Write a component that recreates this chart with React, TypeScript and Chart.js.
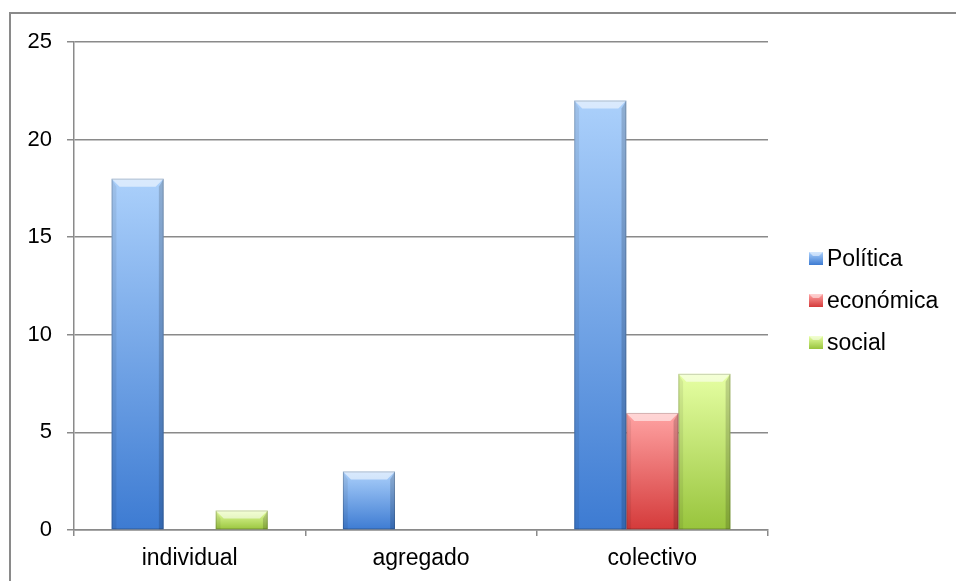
import React, { useEffect, useRef } from "react";
import { Chart, registerables } from "chart.js";

Chart.register(...registerables);

const categories = ["individual", "agregado", "colectivo"];
const seriesNames = ["Política", "económica", "social"];
const politica = [18, 3, 22];
const economica = [0, 0, 6];
const social = [1, 0, 8];
const yTicks = [0, 5, 10, 15, 20, 25];

// top / bottom colours of each series' vertical gradient
const palette = [
  { top: "#abd0fb", bottom: "#3d7bd2", flat: "#4f81bd" },
  { top: "#ffa3a3", bottom: "#d43a3a", flat: "#c0504d" },
  { top: "#e6ffa3", bottom: "#98c43c", flat: "#9bbb59" },
];

const FONT = "'Liberation Sans', Arial, sans-serif";
const GRID = "#8a8a8a";

function barFill(ctx: any) {
  const chart = ctx.chart;
  const p = palette[ctx.datasetIndex];
  if (!chart.chartArea || ctx.type !== "data") return p.flat;
  const y = chart.scales.y;
  const v = ctx.raw as number;
  const top = y.getPixelForValue(v);
  const base = y.getPixelForValue(0);
  if (Math.abs(base - top) < 1) return p.flat;
  const g = chart.ctx.createLinearGradient(0, top, 0, base);
  g.addColorStop(0, p.top);
  g.addColorStop(1, p.bottom);
  return g;
}

// bevelled top edge and shaded sides on each bar
const bevelPlugin = {
  id: "bevel",
  afterDatasetsDraw(chart: any) {
    const c = chart.ctx;
    chart.data.datasets.forEach((_: any, di: number) => {
      const meta = chart.getDatasetMeta(di);
      meta.data.forEach((bar: any) => {
        const { x, y, base, width } = bar.getProps(["x", "y", "base", "width"], true);
        const h = base - y;
        if (h < 2) return;
        const x0 = x - width / 2;
        const x1 = x + width / 2;
        const b = Math.min(8, h / 2);
        c.save();
        // top highlight
        c.beginPath();
        c.moveTo(x0, y);
        c.lineTo(x1, y);
        c.lineTo(x1 - b, y + b);
        c.lineTo(x0 + b, y + b);
        c.closePath();
        c.fillStyle = "rgba(255,255,255,0.55)";
        c.fill();
        // left side
        c.beginPath();
        c.moveTo(x0, y);
        c.lineTo(x0 + b * 0.6, y + b);
        c.lineTo(x0 + b * 0.6, base);
        c.lineTo(x0, base);
        c.closePath();
        c.fillStyle = "rgba(0,0,0,0.07)";
        c.fill();
        // right side
        c.beginPath();
        c.moveTo(x1, y);
        c.lineTo(x1 - b * 0.6, y + b);
        c.lineTo(x1 - b * 0.6, base);
        c.lineTo(x1, base);
        c.closePath();
        c.fillStyle = "rgba(0,0,0,0.16)";
        c.fill();
        // outline
        c.strokeStyle = "rgba(0,0,0,0.18)";
        c.lineWidth = 1;
        c.strokeRect(x0 + 0.5, y + 0.5, width - 1, h - 1);
        c.restore();
      });
    });
  },
};

// vertical legend to the right of the plot
const legendPlugin = {
  id: "sideLegend",
  afterDraw(chart: any) {
    const c = chart.ctx;
    const area = chart.chartArea;
    const boxX = area.right + 41;
    const firstBaseline = 266;
    const step = 42;
    c.save();
    c.font = `23px ${FONT}`;
    c.textBaseline = "alphabetic";
    c.textAlign = "left";
    seriesNames.forEach((name, i) => {
      const baseY = firstBaseline + i * step;
      const p = palette[i];
      const bx = boxX;
      const by = baseY - 14;
      const g = c.createLinearGradient(0, by, 0, by + 13);
      g.addColorStop(0, p.top);
      g.addColorStop(1, p.bottom);
      c.fillStyle = g;
      c.fillRect(bx, by, 14, 13);
      c.fillStyle = "rgba(255,255,255,0.5)";
      c.beginPath();
      c.moveTo(bx, by);
      c.lineTo(bx + 14, by);
      c.lineTo(bx + 10, by + 4);
      c.lineTo(bx + 4, by + 4);
      c.closePath();
      c.fill();
      c.fillStyle = "#000";
      c.fillText(name, bx + 18, baseY);
    });
    c.restore();
  },
};

export default function App() {
  const ref = useRef<HTMLCanvasElement>(null);

  useEffect(() => {
    if (!ref.current) return;
    const values = [politica, economica, social];
    const chart = new Chart(ref.current, {
      type: "bar",
      data: {
        labels: categories,
        datasets: seriesNames.map((name, i) => ({
          label: name,
          data: values[i],
          backgroundColor: barFill,
          borderWidth: 0,
          barPercentage: 1,
          categoryPercentage: 0.675,
        })),
      },
      options: {
        animation: false,
        responsive: false,
        layout: { padding: { left: 0, right: 188, top: 42, bottom: 0 } },
        plugins: {
          legend: { display: false },
          tooltip: { enabled: false },
        },
        scales: {
          x: {
            afterFit: (s: any) => {
              s.height = 51;
            },
            grid: {
              offset: true,
              drawOnChartArea: false,
              drawTicks: true,
              tickLength: 6,
              color: GRID,
              lineWidth: 1.5,
            },
            border: { display: true, color: GRID, width: 1.5 },
            ticks: {
              color: "#000",
              font: { family: FONT, size: 23 },
              padding: 9,
            },
          },
          y: {
            min: 0,
            max: 25,
            afterFit: (s: any) => {
              s.width = 74;
            },
            afterBuildTicks: (s: any) => {
              s.ticks = yTicks.map((v) => ({ value: v }));
            },
            grid: {
              color: GRID,
              lineWidth: 1.5,
              drawTicks: true,
              tickLength: 7,
            },
            border: { display: true, color: GRID, width: 1.5 },
            ticks: {
              color: "#000",
              font: { family: FONT, size: 22 },
              padding: 15,
            },
          },
        },
      },
      plugins: [bevelPlugin, legendPlugin],
    });
    return () => chart.destroy();
  }, []);

  return (
    <div
      style={{
        position: "fixed",
        left: 0,
        top: 0,
        width: 956,
        height: 581,
        overflow: "hidden",
        background: "#fff",
      }}
    >
      <div
        style={{
          position: "absolute",
          left: 9,
          top: 12,
          width: 1000,
          height: 1000,
          border: "2px solid #8a8a8a",
        }}
      />
      <canvas
        ref={ref}
        width={956}
        height={581}
        style={{ position: "absolute", left: 0, top: 0, width: 956, height: 581 }}
      />
    </div>
  );
}
